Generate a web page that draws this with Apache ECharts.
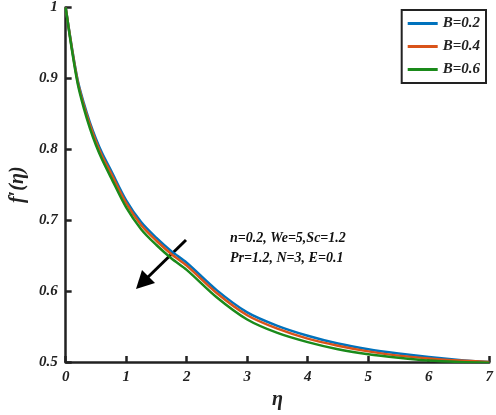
<!DOCTYPE html><html><head><meta charset="utf-8"><script src="https://cdn.jsdelivr.net/npm/echarts@6/dist/echarts.min.js"></script></head><body style="margin:0"><div id="c" style="width:496px;height:415px"></div><script>
const xs=[0,0.1,0.2,0.3,0.4,0.5,0.6,0.75,1,1.25,1.5,1.75,2,2.5,3,3.5,4,4.5,5,5.5,6,6.5,7];
const b02=[1,0.945,0.897,0.865,0.838,0.815,0.795,0.770,0.728,0.697,0.675,0.656,0.640,0.601,0.570,0.551,0.537,0.526,0.518,0.512,0.507,0.503,0.500];
const b04=[1,0.944,0.895,0.862,0.835,0.811,0.791,0.766,0.724,0.693,0.671,0.652,0.636,0.597,0.566,0.547,0.533,0.523,0.515,0.509,0.505,0.502,0.500];
const b06=[1,0.942,0.892,0.858,0.830,0.806,0.786,0.760,0.718,0.687,0.665,0.646,0.630,0.591,0.560,0.541,0.528,0.518,0.511,0.506,0.502,0.500,0.499];
const names=['B=0.2','B=0.4','B=0.6'];
const cols=['#0072BD','#D95319','#1a8a1a'];
const ch=echarts.init(document.getElementById('c'));
const f='Liberation Serif';
ch.setOption({animation:false,
grid:{left:54,right:5,top:5,bottom:47},
xAxis:{type:'value',min:0,max:7,interval:1,axisLine:{lineStyle:{color:'#222',width:2.5}},axisTick:{inside:true,length:6,lineStyle:{width:2.5}},splitLine:{show:false},
 axisLabel:{fontFamily:f,fontWeight:'bold',fontStyle:'italic',fontSize:15,color:'#222'},name:'η',nameLocation:'middle',nameGap:28,nameTextStyle:{fontFamily:f,fontStyle:'italic',fontWeight:'bold',fontSize:20,color:'#222'}},
yAxis:{type:'value',min:0.5,max:1,interval:0.1,axisLine:{lineStyle:{color:'#222',width:2.5}},axisTick:{inside:true,length:6,lineStyle:{width:2.5}},splitLine:{show:false},
 axisLabel:{fontFamily:f,fontWeight:'bold',fontStyle:'italic',fontSize:15,color:'#222',formatter:v=>v===1?'1':v.toFixed(1)},name:"f′(η)",nameLocation:'middle',nameGap:34,nameTextStyle:{fontFamily:f,fontStyle:'italic',fontWeight:'bold',fontSize:20,color:'#222'}},
legend:{right:10,top:10,orient:'vertical',itemWidth:30,itemHeight:3,itemGap:8,backgroundColor:'#fff',borderColor:'#222',borderWidth:2,borderRadius:0,padding:[6,6,6,6],
 textStyle:{fontFamily:f,fontWeight:'bold',fontStyle:'italic',fontSize:15,color:'#222'},icon:'rect'},
series:[b02,b04,b06].map((d,i)=>({name:names[i],type:'line',smooth:0.3,showSymbol:false,lineStyle:{width:2.5,color:cols[i]},itemStyle:{color:cols[i]},data:xs.map((x,j)=>[x,d[j]])})),
graphic:[
 {type:'text',left:230,top:228,style:{text:'n=0.2, We=5,Sc=1.2\nPr=1.2, N=3, E=0.1',font:'italic bold 14px Liberation Serif',fill:'#111',lineHeight:20}},
 {type:'line',shape:{x1:186,y1:240,x2:145,y2:280},style:{stroke:'#000',lineWidth:3}},
 {type:'polygon',shape:{points:[[136,289],[142,270],[155,283]]},style:{fill:'#000'}}
]});
</script></body></html>
